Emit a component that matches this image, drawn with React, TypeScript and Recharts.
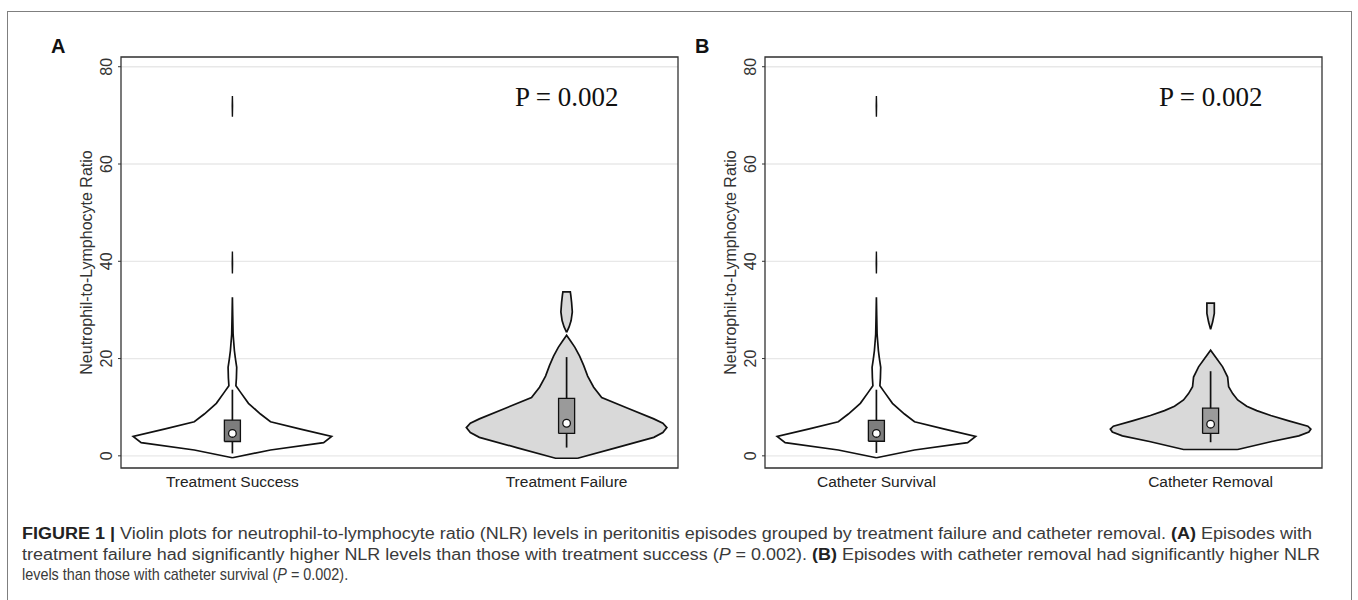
import React from "react";
import {
  ScatterChart,
  Scatter,
  XAxis,
  YAxis,
  CartesianGrid,
  ReferenceArea,
  Label,
} from "recharts";

type Profile = [number, number][]; // [NLR value, half-width as share of widest violin]

// categories of both panels, drawn at x = 1 and x = 4 on a 0..5 axis
const categoriesA = ["Treatment Success", "Treatment Failure"];
const categoriesB = ["Catheter Survival", "Catheter Removal"];
const xPositions = [1, 4];
const yTicks = [0, 20, 40, 60, 80];
const yDomain: [number, number] = [-2.5, 82];

// violin outlines
const successProfile: Profile = [
  [-0.4, 0], [1.2, 0.38], [2.7, 0.91], [4.0, 0.99], [5.5, 0.68], [7.0, 0.38],
  [8.6, 0.28], [10.8, 0.16], [13.1, 0.08], [14.4, 0.035], [16.0, 0.04],
  [18.2, 0.043], [20.0, 0.03], [21.6, 0.02], [25.0, 0.007], [29.0, 0.003], [32.6, 0],
];
const successTails: Profile[] = [
  [[37.5, 0], [39.5, 0.002], [42.0, 0]],
  [[69.7, 0], [72.0, 0.002], [74.0, 0]],
];
const failureProfile: Profile = [
  [-0.5, 0.11], [1.65, 0.49], [3.8, 0.87], [4.8, 0.96], [5.8, 1.0], [6.7, 0.96],
  [7.6, 0.87], [9.8, 0.61], [12.0, 0.35], [14.1, 0.27], [16.4, 0.21], [18.6, 0.17],
  [20.5, 0.13], [22.3, 0.083], [23.6, 0.04], [24.8, 0],
];
const failureTails: Profile[] = [
  [[25.4, 0], [26.5, 0.025], [27.8, 0.045], [29.6, 0.057], [31.5, 0.05], [33.0, 0.042], [33.7, 0.037]],
];
// catheter survival looks the same as treatment success
const survivalProfile: Profile = successProfile;
const survivalTails: Profile[] = successTails;
const removalProfile: Profile = [
  [1.3, 0.27], [2.95, 0.61], [4.1, 0.88], [4.9, 0.98], [5.5, 1.0], [6.1, 0.97],
  [7.2, 0.78], [8.3, 0.6], [9.3, 0.46], [10.2, 0.36], [11.5, 0.27], [12.8, 0.22],
  [14.2, 0.18], [16.2, 0.17], [18.3, 0.12], [20.0, 0.06], [21.7, 0],
];
const removalTails: Profile[] = [
  [[26.0, 0], [27.5, 0.02], [29.3, 0.037], [31.4, 0.037]],
];

// box stats: [lower whisker, q1, median, q3, upper whisker]
const boxStatsA = [
  [0.5, 2.95, 4.6, 7.35, 13.6],
  [1.7, 4.6, 6.7, 11.8, 20.3],
];
const boxStatsB = [
  [0.6, 3.0, 4.6, 7.3, 13.6],
  [2.8, 4.6, 6.5, 9.8, 17.4],
];

const violinFills = ["#ffffff", "#d9d9d9"];
const boxFills = ["#7d7d7d", "#9a9a9a"];

const MAX_HALF = 0.9;
const BOX_HALF = 0.072;
const SANS = "'Liberation Sans', Arial, sans-serif";

const toPolygon = (center: number, profile: Profile) => {
  const right = profile.map(([v, w]) => ({ x: center + w * MAX_HALF, y: v }));
  const left = [...profile].reverse().map(([v, w]) => ({ x: center - w * MAX_HALF, y: v }));
  const pts = [...right, ...left];
  return [...pts, pts[0]];
};

const toBox = (center: number, q1: number, q3: number) => [
  { x: center - BOX_HALF, y: q1 },
  { x: center + BOX_HALF, y: q1 },
  { x: center + BOX_HALF, y: q3 },
  { x: center - BOX_HALF, y: q3 },
  { x: center - BOX_HALF, y: q1 },
];

const NoDot = () => <g />;

const MedianDot = (props: any) => (
  <circle cx={props.cx} cy={props.cy} r={3.8} fill="#fff" stroke="#111" strokeWidth={1.3} />
);

const RotatedTick = (props: any) => {
  const { x, y, payload } = props;
  const bx = x - 6;
  return (
    <text
      x={bx}
      y={y}
      transform={`rotate(-90, ${bx}, ${y})`}
      textAnchor="middle"
      fontSize={16}
      fontFamily={SANS}
      fill="#333"
    >
      {payload.value}
    </text>
  );
};

const YTitle = (props: any) => {
  const vb = props.viewBox || { x: 81, y: 57, width: 40, height: 411 };
  const tx = vb.x + 11;
  const ty = vb.y + vb.height / 2;
  return (
    <text
      x={tx}
      y={ty}
      transform={`rotate(-90, ${tx}, ${ty})`}
      textAnchor="middle"
      fontSize={16}
      fontFamily={SANS}
      fill="#333"
    >
      Neutrophil-to-Lymphocyte Ratio
    </text>
  );
};

const lineStyle = (fill: string, width = 1.7) => ({ stroke: "#111", strokeWidth: width, fill });

interface PanelProps {
  left: number;
  categories: string[];
  profiles: Profile[];
  tails: Profile[][];
  boxes: number[][];
}

const Panel = ({ left, categories, profiles, tails, boxes }: PanelProps) => (
  <div style={{ position: "absolute", left, top: 0 }}>
    <ScatterChart width={700} height={500} margin={{ top: 57, right: 22, bottom: 2, left: 81 }}>
      <CartesianGrid vertical={false} stroke="#e8e8e8" strokeWidth={1.3} />
      <XAxis
        type="number"
        dataKey="x"
        domain={[0, 5]}
        ticks={xPositions}
        interval={0}
        allowDataOverflow
        tickFormatter={(v: number) => categories[xPositions.indexOf(v)] ?? ""}
        tickLine={false}
        axisLine={false}
        height={30}
        tick={{ fontSize: 15.5, fill: "#222", fontFamily: SANS }}
      />
      <YAxis
        type="number"
        dataKey="y"
        domain={yDomain}
        ticks={yTicks}
        interval={0}
        allowDataOverflow
        width={40}
        tickSize={3}
        tickMargin={0}
        axisLine={false}
        tickLine={{ stroke: "#333" }}
        tick={<RotatedTick />}
      >
        <Label content={<YTitle />} />
      </YAxis>
      <ReferenceArea
        x1={0}
        x2={5}
        y1={yDomain[0]}
        y2={yDomain[1]}
        fill="none"
        fillOpacity={0}
        stroke="#333"
        strokeWidth={1.3}
        ifOverflow="visible"
      />
      {profiles.map((p, i) => (
        <Scatter
          key={`v${i}`}
          data={toPolygon(xPositions[i], p)}
          line={lineStyle(violinFills[i])}
          lineType="joint"
          shape={<NoDot />}
          isAnimationActive={false}
        />
      ))}
      {tails.map((group, i) =>
        group.map((p, j) => (
          <Scatter
            key={`t${i}-${j}`}
            data={toPolygon(xPositions[i], p)}
            line={lineStyle(violinFills[i], i === 0 ? 1.4 : 1.7)}
            lineType="joint"
            shape={<NoDot />}
            isAnimationActive={false}
          />
        ))
      )}
      {boxes.map((b, i) => (
        <Scatter
          key={`w${i}`}
          data={[{ x: xPositions[i], y: b[0] }, { x: xPositions[i], y: b[4] }]}
          line={lineStyle("none")}
          lineType="joint"
          shape={<NoDot />}
          isAnimationActive={false}
        />
      ))}
      {boxes.map((b, i) => (
        <Scatter
          key={`b${i}`}
          data={toBox(xPositions[i], b[1], b[3])}
          line={lineStyle(boxFills[i], 1.3)}
          lineType="joint"
          shape={<NoDot />}
          isAnimationActive={false}
        />
      ))}
      {boxes.map((b, i) => (
        <Scatter
          key={`m${i}`}
          data={[{ x: xPositions[i], y: b[2] }]}
          shape={<MedianDot />}
          isAnimationActive={false}
        />
      ))}
    </ScatterChart>
  </div>
);

export default function App() {
  return (
    <div
      style={{
        position: "absolute",
        left: 0,
        top: 0,
        width: 1358,
        height: 600,
        overflow: "hidden",
        background: "#fff",
      }}
    >
      <div
        style={{
          position: "absolute",
          left: 7,
          top: 11,
          width: 1343,
          height: 640,
          border: "1.6px solid #7f7f7f",
        }}
      />
      <Panel left={0} categories={categoriesA} profiles={[successProfile, failureProfile]} tails={[successTails, failureTails]} boxes={boxStatsA} />
      <Panel left={644} categories={categoriesB} profiles={[survivalProfile, removalProfile]} tails={[survivalTails, removalTails]} boxes={boxStatsB} />
      <svg
        width={1358}
        height={600}
        style={{ position: "absolute", left: 0, top: 0, pointerEvents: "none" }}
      >
        <text x={51} y={53} fontSize={20} fontWeight="bold" fontFamily={SANS} fill="#111">A</text>
        <text x={695} y={53} fontSize={20} fontWeight="bold" fontFamily={SANS} fill="#111">B</text>
        <text x={515} y={106} fontSize={27} fontFamily="'Liberation Serif', 'Times New Roman', serif" fill="#111">P = 0.002</text>
        <text x={1159} y={106} fontSize={27} fontFamily="'Liberation Serif', 'Times New Roman', serif" fill="#111">P = 0.002</text>
        <g fontFamily={SANS} fontSize={16} fill="#3a3a3a">
          <text x={22} y={539} textLength={1290} lengthAdjust="spacingAndGlyphs">
            <tspan fontWeight="bold" fill="#222">FIGURE 1 | </tspan>
            Violin plots for neutrophil-to-lymphocyte ratio (NLR) levels in peritonitis episodes grouped by treatment failure and catheter removal.{" "}
            <tspan fontWeight="bold" fill="#222">(A)</tspan> Episodes with
          </text>
          <text x={22} y={560} textLength={1298} lengthAdjust="spacingAndGlyphs">
            treatment failure had significantly higher NLR levels than those with treatment success (
            <tspan fontStyle="italic">P</tspan> = 0.002).{" "}
            <tspan fontWeight="bold" fill="#222">(B)</tspan> Episodes with catheter removal had significantly higher NLR
          </text>
          <text x={0} y={0} transform="translate(22, 580) scale(0.9, 1)">
            levels than those with catheter survival (<tspan fontStyle="italic">P</tspan> = 0.002).
          </text>
        </g>
      </svg>
    </div>
  );
}
